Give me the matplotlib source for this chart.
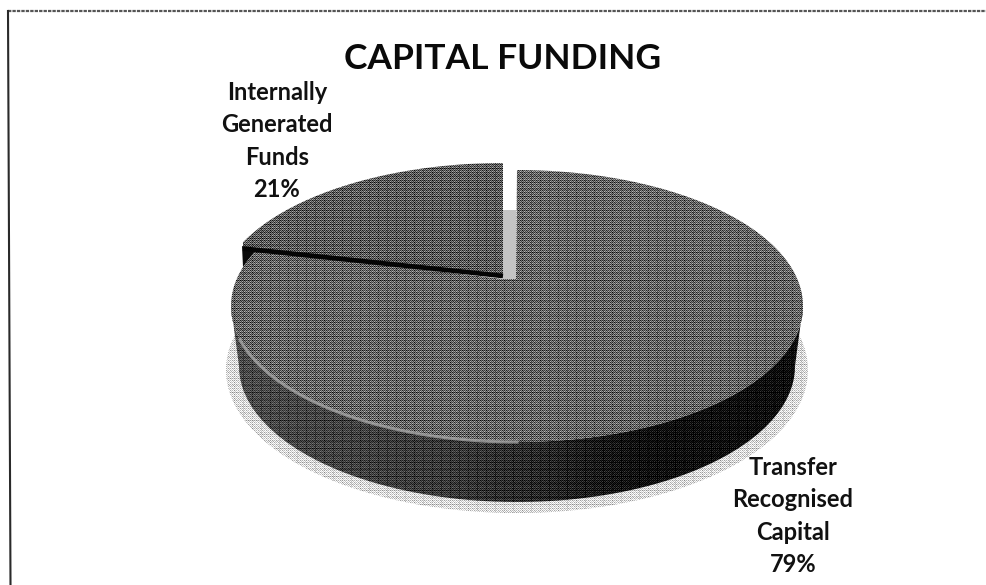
import numpy as np
import matplotlib
matplotlib.use("Agg")
import matplotlib.pyplot as plt
from matplotlib.patches import Polygon

categories = ["Transfer\nRecognised\nCapital\n79%", "Internally\nGenerated\nFunds\n21%"]
values = [79, 21]
title = "CAPITAL FUNDING"

W, H = 987, 585
plt.rcParams['font.family'] = ['Lato', 'DejaVu Sans']
fig = plt.figure(figsize=(W/100, H/100), dpi=100, facecolor="white")
ax = fig.add_axes([0, 0, 1, 1])
ax.set_xlim(0, W); ax.set_ylim(H, 0); ax.axis("off")

# 3-D pie geometry (perspective squeezes the slice at the back)
cx, cy, rx, ry = 517, 306, 286, 136
bx, by, brx, bry = 517, 366, 278, 136
sx, sy, srx, sry = 517, 370, 291, 143
ex, ey = -14, -7
persp = 0.865

fracs = np.array(values) / sum(values)
small = 2*np.pi*fracs[1]*persp
big = 2*np.pi - small


def ell(t, x0, y0, a, b):
    return x0 + a*np.sin(t), y0 - b*np.cos(t)


def textured(poly, base, z, amp=70):
    """Fill a polygon with a screened (halftone) grey, as in the scan."""
    yy, xx = np.mgrid[0:H, 0:W]
    b = np.asarray(base, dtype=float)
    if b.ndim == 1:
        b = np.interp(xx, np.arange(W), b)
    bayer = np.array([[0, 8, 2, 10], [12, 4, 14, 6], [3, 11, 1, 9], [15, 7, 13, 5]]) / 16 - 0.47
    th = bayer[yy % 4, xx % 4]
    grid = ((xx % 9 == 0) | (yy % 7 == 0)) * (-25)
    img = np.clip(b + th*amp*2 + grid, 0, 255) / 255
    im = ax.imshow(img, cmap="gray", vmin=0, vmax=1, extent=(0, W, H, 0),
                   interpolation="nearest", aspect="auto", zorder=z)
    patch = Polygon(poly, closed=True, transform=ax.transData, fc="none", ec="none")
    ax.add_patch(patch)
    im.set_clip_path(patch)


# frame of the scanned page
ax.plot([8, 987], [11, 11], color="#555555", lw=1.6, ls=(0, (1.5, 0.5)), zorder=1)
ax.plot([8, 10.5], [11, 585], color="#2a2a2a", lw=1.5, zorder=1)

# shadow
t = np.linspace(np.pi*0.42, np.pi*1.58, 200)
xs, ys = ell(t, sx, sy, srx, sry)
textured(np.c_[xs, ys], 225, 1.5, amp=70)

# side wall, lighter on the left and almost black at the lower right
t = np.linspace(np.pi/2, 3*np.pi/2, 200)
xb, yb = ell(t, bx, by, brx, bry)
xt, yt = ell(t[::-1], cx, cy, rx, ry)
wall_base = np.interp(np.arange(W), [230, 450, 560, 640, 800], [80, 62, 40, 14, 10])
textured(np.c_[np.r_[xb, xt], np.r_[yb, yt]], wall_base, 2, amp=50)

# small slice's wall, seen at its left corner
ax.add_patch(Polygon([(242, 246), (256, 250), (243, 267)], closed=True, fc="#0a0a0a", ec="none", zorder=2.5))

# gap between the slices
ax.add_patch(Polygon([(503, 210), (516, 210), (516, 279), (503, 279)], closed=True, fc="#c4c4c4", ec="none", zorder=2.6))

# top of the large slice
t = np.linspace(0, big, 300)
xs, ys = ell(t, cx, cy, rx, ry)
textured(np.c_[np.r_[xs, 503, 516], np.r_[ys, 279, 279]], 106, 3, amp=85)

# top of the small slice
t = np.linspace(-small, 0, 120)
xs, ys = ell(t, cx + ex, cy + ey, rx, ry)
textured(np.c_[np.r_[503, 243, xs], np.r_[276, 249, ys]], 96, 3.1, amp=85)

# dark edge along the cut and pale rim of the top face
ax.plot([243, 503], [248.5, 276], color="#050505", lw=3.4, zorder=4, solid_capstyle="butt")
t = np.linspace(np.pi, 1.42*np.pi, 120)
xs, ys = ell(t, cx, cy, rx, ry)
ax.plot(xs, ys, color="#a8a8a8", lw=2.2, alpha=0.75, zorder=4)

ax.text(503, 59, title, ha="center", va="center", fontsize=25.5, fontweight="bold", color="#0a0a0a", zorder=6)
for label, x, y in [(categories[1], 277, 141), (categories[0], 793, 516)]:
    ax.text(x, y, label, ha="center", va="center", fontsize=17, fontweight="bold",
            color="#111111", linespacing=1.48, zorder=6)

ax.set_xlim(0, W); ax.set_ylim(H, 0)
fig.savefig("out.png", dpi=100)
